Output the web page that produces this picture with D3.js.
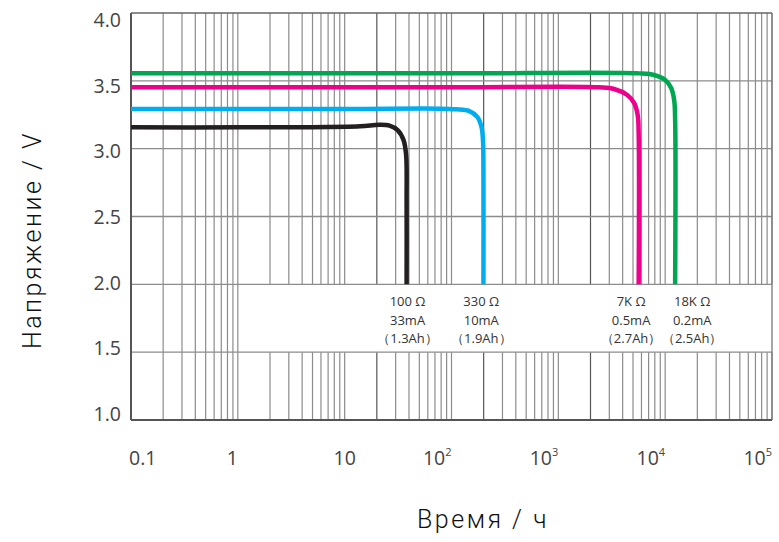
<!DOCTYPE html>
<html><head><meta charset="utf-8">
<script src="https://cdn.jsdelivr.net/npm/d3@7/dist/d3.min.js"></script>
<style>body{margin:0;background:#fff}svg{display:block}</style>
</head><body>
<svg id="c" width="779" height="542"></svg>
<script>
// ---- data ----
const xTickValues = [0.1, 1, 10, 100, 1000, 10000, 100000];
const xTickBase = ["0.1", "1", "10", "10", "10", "10", "10"];
const xTickExp = ["", "", "", "2", "3", "4", "5"];
const yTickValues = [1.0, 1.5, 2.0, 2.5, 3.0, 3.5, 4.0];

const seriesNames = ["100Ω", "330Ω", "7KΩ", "18KΩ"];
const seriesColors = ["#231f20", "#00aeef", "#ec008c", "#00a651"];

const blackTime = [0.1, 1, 4, 14, 21, 26.3, 31.3, 35.6, 37.6, 38.0, 38.0];
const blackVolt = [3.157, 3.157, 3.158, 3.165, 3.176, 3.17, 3.137, 3.063, 2.953, 2.62, 2.0];
const blueTime = [0.1, 10, 77, 111, 147, 175, 191, 197, 199, 199];
const blueVolt = [3.293, 3.293, 3.295, 3.29, 3.277, 3.233, 3.159, 3.063, 2.842, 2.0];
const pinkTime = [0.1, 100, 2415, 3335, 4414, 5130, 5530, 5650, 5650];
const pinkVolt = [3.452, 3.452, 3.452, 3.44, 3.395, 3.336, 3.248, 3.10, 2.0];
const greenTime = [0.1, 100, 5710, 7890, 10000, 11380, 12140, 12400, 12400];
const greenVolt = [3.555, 3.555, 3.555, 3.543, 3.506, 3.447, 3.358, 3.21, 2.0];

const labelTimes = [38.8, 190, 4800, 17900];
const labelLine1 = ["100 Ω", "330 Ω", "7K Ω", "18K Ω"];
const labelLine2 = ["33mA", "10mA", "0.5mA", "0.2mA"];
const labelLine3 = ["（1.3Ah）", "（1.9Ah）", "（2.7Ah）", "（2.5Ah）"];

const xTitle = "Время / ч";
const yTitle = "Напряжение / V";

// ---- build ----
const svg = d3.select("#c");
const x = d3.scaleLog().domain([0.1, 100000]).range([131, 772]);
const y = d3.scaleLinear().domain([1, 4]).range([420, 13]);
const yLab = d3.scaleLinear().domain([1, 4]).range([414, 20]);

const bandTop = 2.0, bandBottom = 1.5;

// vertical grid
const gridX = [];
for (let n = -1; n <= 4; n++) for (let k = 1; k <= 9; k++) gridX.push(+(k * Math.pow(10, n)).toPrecision(3));
gridX.push(100000);
const darkSet = new Set([20, 200, 2000]);
const gv = svg.append("g");
gridX.forEach(t => {
  const col = darkSet.has(t) ? "#555" : "#8c8c8c";
  if (t > 1.05) {
    gv.append("line").attr("x1", x(t)).attr("x2", x(t)).attr("y1", y(4)).attr("y2", y(bandTop)).attr("stroke", col).attr("stroke-width", 1.2);
    gv.append("line").attr("x1", x(t)).attr("x2", x(t)).attr("y1", y(bandBottom)).attr("y2", y(1)).attr("stroke", col).attr("stroke-width", 1.2);
  } else {
    gv.append("line").attr("x1", x(t)).attr("x2", x(t)).attr("y1", y(4)).attr("y2", y(1)).attr("stroke", col).attr("stroke-width", 1.2);
  }
});
// horizontal grid
svg.append("g").selectAll("line").data(yTickValues.filter(v => v > 1 && v < 4)).join("line")
  .attr("x1", x(0.1)).attr("x2", x(100000)).attr("y1", d => y(d)).attr("y2", d => y(d))
  .attr("stroke", "#8c8c8c").attr("stroke-width", 1.3);

// frame
svg.append("line").attr("x1", x(0.1)).attr("x2", x(100000)).attr("y1", y(4)).attr("y2", y(4)).attr("stroke", "#666").attr("stroke-width", 1.5);
svg.append("line").attr("x1", x(100000)).attr("x2", x(100000)).attr("y1", y(4)).attr("y2", y(1)).attr("stroke", "#777").attr("stroke-width", 1.3);
svg.append("line").attr("x1", x(0.1)).attr("x2", x(100000)).attr("y1", y(1)).attr("y2", y(1)).attr("stroke", "#555").attr("stroke-width", 2);
svg.append("line").attr("x1", x(0.1)).attr("x2", x(0.1)).attr("y1", y(4)).attr("y2", y(1)).attr("stroke", "#555").attr("stroke-width", 2);

// curves
const series = [
  blackTime.map((t, i) => [t, blackVolt[i]]),
  blueTime.map((t, i) => [t, blueVolt[i]]),
  pinkTime.map((t, i) => [t, pinkVolt[i]]),
  greenTime.map((t, i) => [t, greenVolt[i]])
];
const line = d3.line().x(d => x(d[0])).y(d => y(d[1])).curve(d3.curveCatmullRom.alpha(0.5));
svg.append("g").selectAll("path").data(series).join("path")
  .attr("d", line).attr("fill", "none")
  .attr("stroke", (d, i) => seriesColors[i]).attr("stroke-width", 4.5)
  .attr("stroke-linejoin", "round");

// band labels
const lg = svg.append("g").attr("font-family", "'Open Sans', 'DejaVu Sans', sans-serif").attr("font-size", 13).attr("fill", "#333").attr("text-anchor", "middle");
labelTimes.forEach((t, i) => {
  lg.append("text").attr("x", x(t)).attr("y", 306).text(labelLine1[i]);
  lg.append("text").attr("x", x(t)).attr("y", 325).text(labelLine2[i]);
  lg.append("text").attr("x", x(t)).attr("y", 343).text(labelLine3[i]);
});

// y tick labels
svg.append("g").selectAll("text").data(yTickValues).join("text")
  .attr("x", 121).attr("y", d => yLab(d)).attr("dy", "0.36em")
  .attr("text-anchor", "end").attr("font-family", "'Open Sans', sans-serif").attr("font-size", 19.5).attr("fill", "#444")
  .text(d => d.toFixed(1));

// x tick labels
const anchors = ["start", "end", "middle", "end", "end", "end", "end"];
const xl = svg.append("g").attr("font-family", "'Open Sans', sans-serif").attr("font-size", 19.5).attr("fill", "#444");
xTickValues.forEach((t, i) => {
  const tx = xl.append("text").attr("x", x(t) + (i === 0 ? -2 : 0)).attr("y", 465).attr("text-anchor", anchors[i]);
  tx.append("tspan").text(xTickBase[i]);
  if (xTickExp[i]) tx.append("tspan").attr("font-size", 11).attr("dy", -9).text(xTickExp[i]);
});

// axis titles
svg.append("text").attr("x", 483).attr("y", 528).attr("text-anchor", "middle")
  .attr("font-family", "Roboto, 'Liberation Sans', sans-serif").attr("font-weight", 300)
  .attr("font-size", 25).attr("letter-spacing", "2.5px").attr("fill", "#111").text(xTitle);
svg.append("text").attr("transform", "translate(41,240) rotate(-90)").attr("text-anchor", "middle")
  .attr("font-family", "Roboto, 'Liberation Sans', sans-serif").attr("font-weight", 300)
  .attr("font-size", 25).attr("letter-spacing", "2.5px").attr("fill", "#111").text(yTitle);
</script>
</body></html>
